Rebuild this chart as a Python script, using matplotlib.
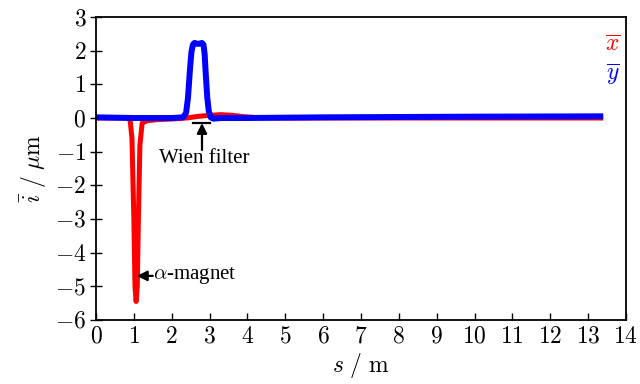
import matplotlib
matplotlib.use("Agg")
import matplotlib.pyplot as plt
from matplotlib.ticker import FuncFormatter

# s-Koordinate und mittlere Ablage
s_x = [0, 0.5, 0.8, 0.9, 0.95, 1.0, 1.03, 1.06, 1.09, 1.12, 1.16, 1.22, 1.35,
       1.6, 2.0, 2.4, 2.7, 3.0, 3.3, 3.6, 3.9, 4.3, 5.0, 8.0, 13.4]
x_mean = [0, 0, 0, -0.05, -0.6, -3.0, -5.0, -5.45, -5.0, -3.0, -0.8, -0.15,
          -0.08, -0.05, -0.03, 0.0, 0.05, 0.08, 0.1, 0.08, 0.04, 0.01, 0, 0, 0]

s_y = [0, 1.0, 2.0, 2.3, 2.38, 2.43, 2.48, 2.52, 2.56, 2.6, 2.7, 2.8, 2.84,
       2.87, 2.9, 2.94, 2.98, 3.03, 3.1, 3.3, 3.6, 4.0, 6.0, 10.0, 13.4]
y_mean = [0.02, 0.0, 0.0, 0.02, 0.15, 0.6, 1.4, 1.95, 2.18, 2.23, 2.2, 2.23,
          2.18, 1.9, 1.3, 0.6, 0.2, 0.02, -0.02, 0.0, 0.0, 0.0, 0.02, 0.04, 0.05]

plt.rcParams['mathtext.fontset'] = 'cm'
plt.rcParams['font.family'] = ['Liberation Serif', 'DejaVu Serif']

fig = plt.figure(figsize=(6.4, 3.84), dpi=100)
ax = fig.add_axes([0.15, 0.1667, 0.828, 0.789])

ax.plot(s_x, x_mean, color='#ff0000', lw=3.6, solid_joinstyle='round',
        solid_capstyle='butt')
ax.plot(s_y, y_mean, color='#0000ff', lw=4.3, solid_joinstyle='round',
        solid_capstyle='butt')

ax.set_xlim(0, 14)
ax.set_ylim(-6, 3)
ax.set_xticks(range(0, 15))
ax.set_yticks(range(-6, 4))
fmt = FuncFormatter(lambda v, p: r'$%d$' % v)
ax.xaxis.set_major_formatter(fmt)
ax.yaxis.set_major_formatter(fmt)
ax.tick_params(axis='x', direction='in', length=5, width=1, labelsize=17, pad=5)
ax.tick_params(axis='y', direction='inout', length=8, width=1, labelsize=17, pad=3)
for sp in ax.spines.values():
    sp.set_linewidth(1.3)

ax.set_xlabel(r'$s\ /\ \mathrm{m}$', fontsize=17, labelpad=2)
ax.set_ylabel(r'$\bar{i}\ /\ \mu\mathrm{m}$', fontsize=17, labelpad=4)

# Legende als Text
ax.text(0.975, 0.905, r'$\overline{x}$', color='#ff0000', fontsize=17,
        transform=ax.transAxes, ha='center', va='center')
ax.text(0.975, 0.81, r'$\overline{y}$', color='#0000ff', fontsize=17,
        transform=ax.transAxes, ha='center', va='center')

# Wien-Filter
ax.annotate('', xy=(2.8, -0.15), xytext=(2.8, -0.95),
            arrowprops=dict(arrowstyle='-|>', color='k', lw=1.6, mutation_scale=15,
                            shrinkA=0, shrinkB=0))
ax.plot([2.56, 3.0], [-0.15, -0.15], color='k', lw=1.6)
ax.text(2.85, -1.2, 'Wien filter', fontsize=15, ha='center', va='center')

# alpha-Magnet
ax.annotate('', xy=(1.08, -4.69), xytext=(1.5, -4.69),
            arrowprops=dict(arrowstyle='-|>', color='k', lw=1.6, mutation_scale=15,
                            shrinkA=0, shrinkB=0))
ax.text(1.5, -4.69, r'$\alpha$-magnet', fontsize=15, ha='left', va='center')

fig.savefig('out.png', dpi=100)
